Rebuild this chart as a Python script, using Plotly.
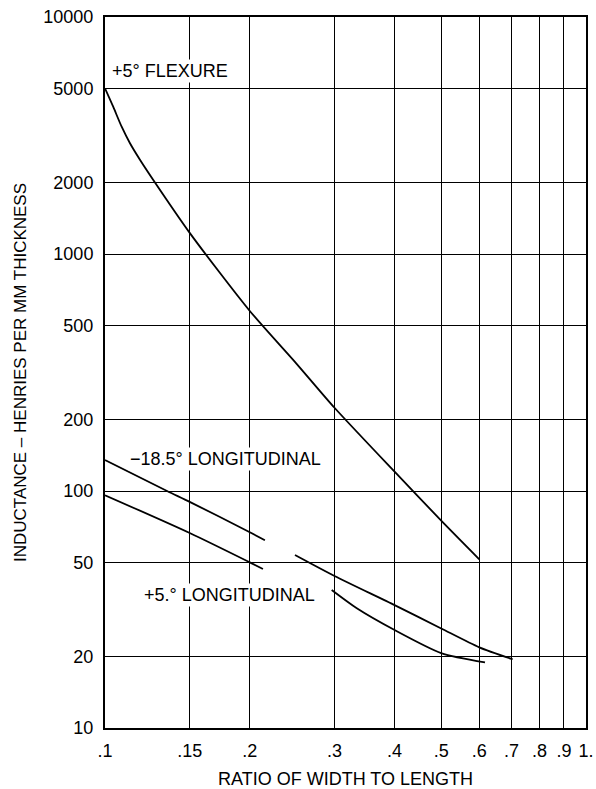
import math
import plotly.graph_objects as go

# Data (log-log chart)
flex_x = [0.1, 0.104, 0.1083, 0.1127, 0.1183, 0.126, 0.15, 0.2, 0.25, 0.3, 0.4, 0.5, 0.6]
flex_y = [5000, 4182, 3444, 2932, 2492, 2052, 1228, 575, 345, 224.5, 120.6, 75, 51.5]

neg185_left_x = [0.1, 0.1346, 0.15, 0.2, 0.215]
neg185_left_y = [135, 100, 90, 67, 62]
neg185_right_x = [0.2483, 0.3, 0.4, 0.5, 0.6, 0.704]
neg185_right_y = [53.7, 43.8, 33.0, 26.3, 21.9, 19.5]

pos5_left_x = [0.1, 0.15, 0.2, 0.213]
pos5_left_y = [96, 66.5, 50, 46.9]
pos5_right_x = [0.296, 0.3338, 0.4, 0.5, 0.6166]
pos5_right_y = [38.2, 32.0, 25.9, 20.7, 18.9]

x_ticks = [0.1, 0.15, 0.2, 0.3, 0.4, 0.5, 0.6, 0.7, 0.8, 0.9, 1.0]
x_ticktext = [".1", ".15", ".2", ".3", ".4", ".5", ".6", ".7", ".8", ".9", "1."]
y_ticks = [10, 20, 50, 100, 200, 500, 1000, 2000, 5000, 10000]
y_ticktext = ["10", "20", "50", "100", "200", "500", "1000", "2000", "5000", "10000"]

labels = ["+5° FLEXURE", "\u221218.5° LONGITUDINAL", "+5.° LONGITUDINAL"]
label_x = [0.1024, 0.1116, 0.1194]
label_y = [5892, 137, 36.4]

FONT = "Liberation Sans, Arial, sans-serif"

fig = go.Figure()
line = dict(color="black", width=1.8, shape="spline", smoothing=0.7)
for xs, ys, name in [
    (flex_x, flex_y, "+5° Flexure"),
    (neg185_left_x, neg185_left_y, "-18.5° Longitudinal"),
    (neg185_right_x, neg185_right_y, "-18.5° Longitudinal"),
    (pos5_left_x, pos5_left_y, "+5° Longitudinal"),
    (pos5_right_x, pos5_right_y, "+5° Longitudinal"),
]:
    fig.add_trace(go.Scatter(x=xs, y=ys, mode="lines", line=line, name=name,
                             showlegend=False, hoverinfo="x+y+name"))

# annotations on log axes take log10 coordinates
for t, xv, yv in zip(labels, label_x, label_y):
    fig.add_annotation(x=math.log10(xv), y=math.log10(yv), xref="x", yref="y",
                       text=t, showarrow=False, xanchor="left", yanchor="middle",
                       font=dict(family=FONT, size=18, color="black"),
                       bgcolor="white", borderpad=1)

fig.update_xaxes(type="log", range=[-1, 0], tickvals=x_ticks, ticktext=x_ticktext,
                 showgrid=True, gridcolor="black", gridwidth=1.4,
                 showline=True, linecolor="black", linewidth=2, mirror=True,
                 ticks="", ticklabelstandoff=5, zeroline=False, automargin=False,
                 tickfont=dict(family=FONT, size=18, color="black"),
                 title=dict(text="RATIO OF WIDTH TO LENGTH", standoff=23,
                            font=dict(family=FONT, size=18, color="black")))
fig.update_yaxes(type="log", range=[1, 4], tickvals=y_ticks, ticktext=y_ticktext,
                 showgrid=True, gridcolor="black", gridwidth=1.4,
                 showline=True, linecolor="black", linewidth=2, mirror=True,
                 ticks="", ticklabelstandoff=6, zeroline=False, automargin=False,
                 tickfont=dict(family=FONT, size=18, color="black"),
                 title=dict(text="INDUCTANCE \u2013 HENRIES PER MM THICKNESS", standoff=12,
                            font=dict(family=FONT, size=17, color="black")))

fig.update_layout(width=596, height=789, margin=dict(l=105, r=10, t=17, b=61),
                  paper_bgcolor="white", plot_bgcolor="white",
                  font=dict(family=FONT, color="black"))

fig.write_html("out.html")
